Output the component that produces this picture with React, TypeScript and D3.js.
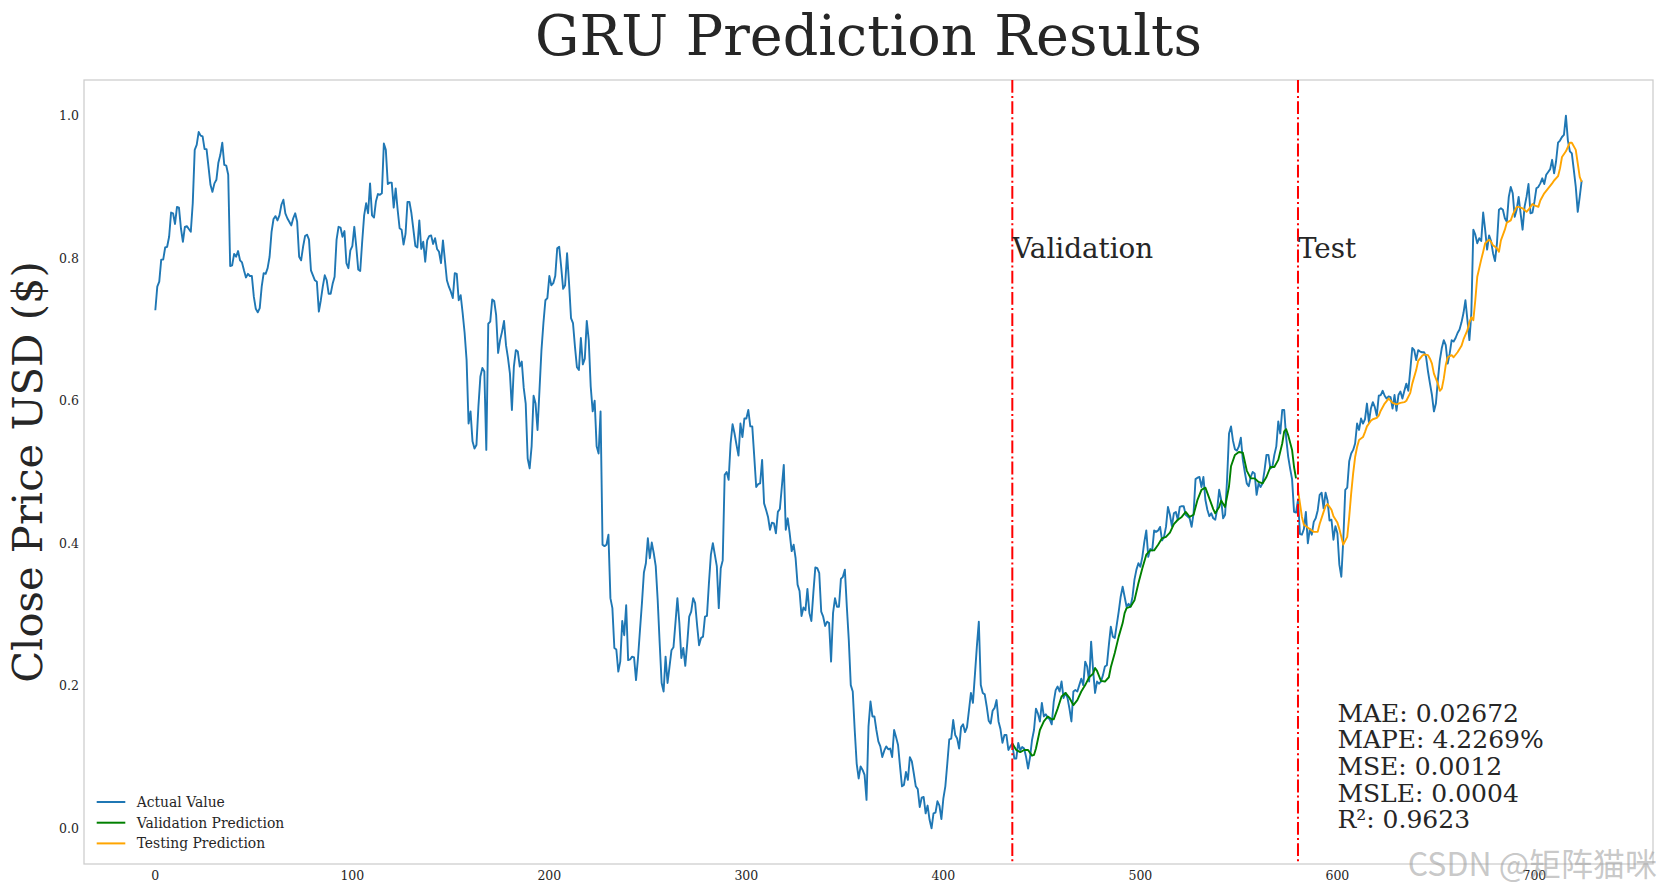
import React from 'react'
import * as d3 from 'd3'

// [index, scaled close price]
const actualValue: [number, number][] = [
  [0, .727], [1, .76], [2, .767], [3, .798], [4, .798], [5, .815], [6, .816], [7, .83], [8, .864], [9, .863],
  [10, .848], [11, .872], [12, .871], [13, .842], [14, .823], [15, .844], [16, .845], [17, .841], [18, .837], [19, .877],
  [20, .952], [21, .959], [22, .977], [23, .972], [24, .971], [25, .953], [26, .953], [27, .928], [28, .903], [29, .893],
  [30, .905], [31, .91], [32, .934], [33, .945], [34, .962], [35, .931], [36, .93], [37, .917], [38, .789], [39, .79],
  [40, .806], [41, .802], [42, .81], [43, .797], [44, .794], [45, .783], [46, .773], [47, .778], [48, .775], [49, .775],
  [50, .746], [51, .729], [52, .724], [53, .73], [54, .76], [55, .779], [56, .778], [57, .786], [58, .802], [59, .837],
  [60, .855], [61, .859], [62, .853], [63, .86], [64, .875], [65, .882], [66, .863], [67, .856], [68, .851], [69, .846],
  [70, .856], [71, .863], [72, .851], [73, .802], [74, .797], [75, .816], [76, .831], [77, .833], [78, .826], [79, .783],
  [80, .776], [81, .769], [82, .767], [83, .725], [84, .741], [85, .76], [86, .776], [87, .769], [88, .75], [89, .75],
  [90, .764], [91, .774], [92, .826], [93, .844], [94, .843], [95, .83], [96, .838], [97, .793], [98, .786], [99, .811],
  [100, .817], [101, .844], [102, .816], [103, .784], [104, .782], [105, .823], [106, .86], [107, .877], [108, .863], [109, .905],
  [110, .86], [111, .857], [112, .88], [113, .89], [114, .889], [115, .891], [116, .961], [117, .952], [118, .904], [119, .906],
  [120, .906], [121, .871], [122, .898], [123, .868], [124, .842], [125, .84], [126, .819], [127, .834], [128, .879], [129, .879],
  [130, .863], [131, .84], [132, .817], [133, .815], [134, .853], [135, .813], [136, .823], [137, .795], [138, .825], [139, .831],
  [140, .832], [141, .82], [142, .828], [143, .813], [144, .809], [145, .793], [146, .825], [147, .797], [148, .769], [149, .76],
  [150, .753], [151, .744], [152, .779], [153, .778], [154, .741], [155, .748], [156, .723], [157, .695], [158, .657], [159, .568],
  [160, .585], [161, .543], [162, .533], [163, .538], [164, .592], [165, .634], [166, .646], [167, .641], [168, .531], [169, .708],
  [170, .711], [171, .742], [172, .74], [173, .72], [174, .667], [175, .685], [176, .697], [177, .712], [178, .678], [179, .66],
  [180, .638], [181, .587], [182, .648], [183, .671], [184, .669], [185, .648], [186, .655], [187, .618], [188, .596], [189, .519],
  [190, .505], [191, .536], [192, .607], [193, .596], [194, .559], [195, .615], [196, .671], [197, .709], [198, .741], [199, .744],
  [200, .775], [201, .762], [202, .765], [203, .775], [204, .814], [205, .816], [206, .788], [207, .757], [208, .762], [209, .807],
  [210, .765], [211, .716], [212, .709], [213, .676], [214, .647], [215, .643], [216, .688], [217, .651], [218, .659], [219, .712],
  [220, .685], [221, .62], [222, .585], [223, .6], [224, .536], [225, .526], [226, .585], [227, .398], [228, .396], [229, .398],
  [230, .412], [231, .323], [232, .309], [233, .253], [234, .251], [235, .22], [236, .234], [237, .291], [238, .271], [239, .313],
  [240, .236], [241, .237], [242, .241], [243, .24], [244, .208], [245, .239], [246, .278], [247, .316], [248, .359], [249, .372],
  [250, .407], [251, .379], [252, .401], [253, .386], [254, .368], [255, .32], [256, .26], [257, .204], [258, .192], [259, .241],
  [260, .204], [261, .227], [262, .25], [263, .254], [264, .288], [265, .323], [266, .288], [267, .239], [268, .253], [269, .228],
  [270, .26], [271, .297], [272, .304], [273, .323], [274, .316], [275, .285], [276, .257], [277, .267], [278, .269], [279, .297],
  [280, .298], [281, .344], [282, .384], [283, .4], [284, .384], [285, .368], [286, .309], [287, .365], [288, .376], [289, .496],
  [290, .5], [291, .489], [292, .54], [293, .567], [294, .554], [295, .538], [296, .523], [297, .568], [298, .549], [299, .575],
  [300, .575], [301, .587], [302, .564], [303, .564], [304, .522], [305, .479], [306, .483], [307, .484], [308, .517], [309, .456],
  [310, .447], [311, .437], [312, .419], [313, .429], [314, .428], [315, .414], [316, .444], [317, .448], [318, .479], [319, .51],
  [320, .419], [321, .435], [322, .414], [323, .389], [324, .398], [325, .379], [326, .342], [327, .333], [328, .298], [329, .31],
  [330, .306], [331, .336], [332, .302], [333, .291], [334, .33], [335, .366], [336, .365], [337, .358], [338, .304], [339, .297],
  [340, .284], [341, .29], [342, .288], [343, .234], [344, .302], [345, .323], [346, .311], [347, .311], [348, .35], [349, .353],
  [350, .363], [351, .311], [352, .264], [353, .201], [354, .192], [355, .138], [356, .091], [357, .07], [358, .087], [359, .082],
  [360, .075], [361, .04], [362, .143], [363, .178], [364, .157], [365, .157], [366, .138], [367, .122], [368, .115], [369, .1],
  [370, .109], [371, .115], [372, .111], [373, .112], [374, .1], [375, .138], [376, .128], [377, .117], [378, .087], [379, .059],
  [380, .061], [381, .079], [382, .068], [383, .1], [384, .094], [385, .077], [386, .059], [387, .055], [388, .03], [389, .043],
  [390, .044], [391, .021], [392, .032], [393, .012], [394, .0], [395, .021], [396, .022], [397, .038], [398, .032], [399, .013],
  [400, .042], [401, .059], [402, .091], [403, .125], [404, .126], [405, .152], [406, .131], [407, .126], [408, .112], [409, .142],
  [410, .146], [411, .135], [412, .142], [413, .166], [414, .19], [415, .176], [416, .215], [417, .255], [418, .29], [419, .201],
  [420, .19], [421, .188], [422, .171], [423, .151], [424, .147], [425, .165], [426, .169], [427, .18], [428, .15], [429, .139],
  [430, .12], [431, .131], [432, .131], [433, .11], [434, .115], [435, .119], [436, .098], [437, .098], [438, .12], [439, .11],
  [440, .114], [441, .112], [442, .1], [443, .084], [444, .1], [445, .124], [446, .138], [447, .168], [448, .161], [449, .15],
  [450, .176], [451, .157], [452, .16], [453, .155], [454, .153], [455, .146], [456, .177], [457, .194], [458, .199], [459, .192],
  [460, .206], [461, .183], [462, .19], [463, .183], [464, .168], [465, .15], [466, .192], [467, .194], [468, .192], [469, .201],
  [470, .21], [471, .201], [472, .234], [473, .227], [474, .206], [475, .262], [476, .222], [477, .19], [478, .206], [479, .203],
  [480, .206], [481, .215], [482, .227], [483, .229], [484, .257], [485, .283], [486, .269], [487, .267], [489, .304], [490, .325],
  [491, .339], [492, .325], [493, .311], [494, .315], [495, .311], [496, .325], [497, .349], [498, .363], [499, .372], [500, .367],
  [501, .381], [502, .402], [503, .418], [504, .381], [505, .392], [506, .39], [507, .418], [508, .416], [509, .418], [510, .423],
  [511, .404], [512, .409], [513, .423], [514, .451], [515, .44], [516, .424], [517, .442], [518, .444], [519, .433], [520, .451],
  [521, .452], [522, .452], [523, .44], [525, .435], [526, .423], [527, .442], [528, .49], [529, .492], [530, .493], [531, .479],
  [532, .493], [533, .461], [534, .447], [535, .438], [536, .442], [537, .435], [538, .433], [539, .448], [540, .475], [541, .461],
  [542, .435], [543, .44], [544, .489], [545, .554], [546, .564], [547, .544], [548, .532], [549, .53], [550, .536], [551, .548],
  [552, .517], [553, .5], [554, .484], [555, .48], [556, .493], [557, .5], [558, .498], [559, .468], [560, .484], [561, .479],
  [562, .484], [563, .502], [564, .524], [565, .524], [566, .505], [567, .507], [568, .524], [569, .536], [570, .571], [571, .554],
  [572, .587], [573, .587], [574, .548], [575, .522], [576, .505], [577, .49], [578, .444], [579, .443], [580, .461], [581, .413],
  [582, .412], [583, .42], [584, .444], [585, .4], [586, .42], [587, .412], [588, .43], [589, .435], [590, .446], [591, .468],
  [592, .471], [593, .449], [594, .471], [595, .46], [596, .432], [597, .433], [598, .405], [599, .424], [600, .414], [601, .37],
  [602, .353], [603, .405], [604, .475], [605, .478], [606, .515], [607, .526], [608, .531], [609, .54], [610, .568], [611, .559],
  [612, .575], [613, .568], [614, .574], [615, .596], [616, .57], [617, .589], [618, .598], [619, .591], [620, .579], [621, .607],
  [622, .608], [623, .614], [624, .607], [625, .603], [626, .606], [627, .605], [628, .589], [629, .608], [630, .586], [631, .608],
  [632, .613], [633, .603], [634, .614], [635, .624], [636, .614], [637, .643], [638, .674], [639, .671], [640, .657], [641, .671],
  [642, .669], [643, .668], [644, .668], [645, .662], [646, .641], [647, .624], [648, .608], [649, .585], [650, .596], [651, .629],
  [652, .657], [653, .674], [654, .685], [655, .678], [656, .652], [657, .666], [658, .685], [659, .683], [660, .688], [661, .695],
  [662, .7], [663, .71], [664, .723], [665, .741], [666, .713], [667, .685], [668, .723], [669, .84], [670, .833], [671, .821],
  [672, .828], [673, .824], [674, .864], [675, .84], [676, .812], [677, .832], [678, .824], [679, .807], [680, .796], [681, .821],
  [682, .868], [683, .87], [684, .868], [685, .856], [686, .851], [687, .886], [688, .9], [689, .891], [690, .858], [691, .868],
  [692, .886], [693, .863], [694, .84], [695, .872], [696, .886], [697, .904], [698, .863], [699, .864], [700, .879], [701, .898],
  [702, .9], [703, .905], [704, .912], [705, .904], [706, .917], [707, .921], [708, .925], [709, .938], [710, .919], [711, .936],
  [712, .962], [713, .965], [714, .97], [715, .973], [716, 1.0], [717, .965], [718, .95], [719, .947], [720, .924], [721, .9],
  [722, .865], [723, .886], [724, .909],
]

const validationPrediction: [number, number][] = [
  [435, .119], [437, .11], [439, .107], [441, .11], [443, .11], [445, .102], [446, .103], [447, .112], [449, .138], [451, .15],
  [453, .157], [455, .153], [456, .153], [458, .168], [460, .185], [462, .19], [464, .183], [466, .173], [468, .18], [470, .192],
  [472, .201], [474, .212], [476, .217], [477, .225], [478, .221], [480, .207], [482, .206], [484, .212], [485, .226], [487, .246],
  [489, .269], [491, .288], [492, .302], [493, .309], [495, .311], [497, .32], [499, .344], [501, .365], [503, .384], [505, .39],
  [507, .39], [509, .398], [511, .407], [513, .409], [515, .415], [517, .427], [519, .433], [521, .437], [523, .444], [525, .437],
  [527, .44], [529, .461], [531, .475], [533, .478], [535, .463], [537, .448], [538, .442], [540, .451], [541, .46], [543, .451],
  [545, .48], [546, .508], [548, .524], [550, .528], [552, .527], [554, .502], [556, .491], [558, .491], [560, .486], [562, .484],
  [564, .493], [566, .507], [568, .507], [570, .517], [572, .54], [573, .557], [574, .56], [575, .552], [577, .531], [578, .507],
  [579, .491],
]

const testingPrediction: [number, number][] = [
  [580, .475], [581, .456], [582, .437], [583, .426], [584, .424], [586, .42], [588, .416], [590, .416], [591, .427], [593, .444],
  [594, .452], [595, .455], [597, .447], [598, .438], [600, .429], [601, .42], [602, .409], [603, .398], [605, .409], [606, .437],
  [607, .47], [608, .498], [609, .521], [610, .535], [611, .545], [613, .549], [614, .556], [615, .564], [617, .572], [618, .574],
  [620, .576], [621, .579], [622, .586], [624, .596], [626, .603], [627, .6], [628, .597], [630, .595], [632, .597], [634, .598],
  [635, .6], [637, .611], [638, .624], [640, .643], [641, .656], [643, .663], [644, .665], [646, .664], [647, .659], [648, .652],
  [649, .638], [651, .624], [652, .614], [653, .617], [654, .631], [655, .65], [656, .661], [658, .664], [659, .661], [661, .668],
  [663, .677], [664, .686], [666, .699], [667, .71], [668, .717], [669, .713], [670, .741], [671, .774], [673, .798], [674, .809],
  [675, .821], [677, .826], [678, .823], [679, .818], [681, .814], [682, .809], [683, .825], [685, .84], [686, .85], [688, .853],
  [689, .861], [691, .872], [692, .872], [694, .87], [696, .865], [697, .868], [699, .876], [700, .874], [702, .872], [703, .881],
  [705, .891], [707, .898], [709, .905], [710, .909], [712, .915], [713, .926], [714, .942], [716, .95], [717, .956], [718, .962],
  [719, .962], [721, .952], [722, .933], [723, .914], [724, .907],
]

const splits = [
  { x: 435, label: 'Validation' },
  { x: 580, label: 'Test' },
]
const xTicks = [0, 100, 200, 300, 400, 500, 600, 700]
const yTicks = [0, 0.2, 0.4, 0.6, 0.8, 1.0]
const metrics = ['MAE: 0.02672', 'MAPE: 4.2269%', 'MSE: 0.0012', 'MSLE: 0.0004', 'R²: 0.9623']
const legendItems = [
  { label: 'Actual Value', color: '#1f77b4' },
  { label: 'Validation Prediction', color: 'green' },
  { label: 'Testing Prediction', color: 'orange' },
]

const W = 1662
const H = 893
const margin = { left: 84, right: 9, top: 80, bottom: 29 }
const serif = '"DejaVu Serif", serif'

const App = () => {
  const x = d3.scaleLinear().domain([-36.2, 760.2]).range([margin.left, W - margin.right])
  const y = d3.scaleLinear().domain([-0.05, 1.05]).range([H - margin.bottom, margin.top])
  const line = d3
    .line<[number, number]>()
    .x((d) => x(d[0]))
    .y((d) => y(d[1]))

  const top = margin.top
  const bottom = H - margin.bottom

  return (
    <svg
      width={W}
      height={H}
      style={{ position: 'absolute', left: 0, top: 0, background: '#fff' }}
      fontFamily={serif}
    >
      <rect x={0} y={0} width={W} height={H} fill="#fff" />

      {/* title */}
      <text x={(margin.left + W - margin.right) / 2} y={55} textAnchor="middle" fontSize={55.6} fill="#262626">
        GRU Prediction Results
      </text>

      {/* y label */}
      <text
        transform={`translate(42, ${(top + bottom) / 2}) rotate(-90)`}
        textAnchor="middle"
        fontSize={41.7}
        fill="#262626"
      >
        Close Price USD ($)
      </text>

      {/* frame */}
      <rect
        x={margin.left}
        y={top}
        width={W - margin.right - margin.left}
        height={bottom - top}
        fill="none"
        stroke="#cccccc"
        strokeWidth={1.25}
      />

      {/* tick labels */}
      {yTicks.map((t) => (
        <text key={'y' + t} x={margin.left - 5} y={y(t) + 4.5} textAnchor="end" fontSize={12.5} fill="#262626">
          {t.toFixed(1)}
        </text>
      ))}
      {xTicks.map((t) => (
        <text key={'x' + t} x={x(t)} y={bottom + 15.5} textAnchor="middle" fontSize={12.5} fill="#262626">
          {t}
        </text>
      ))}

      {/* series */}
      <path d={line(actualValue) || ''} fill="none" stroke="#1f77b4" strokeWidth={1.9} strokeLinejoin="round" />
      <path d={line(validationPrediction) || ''} fill="none" stroke="green" strokeWidth={1.9} strokeLinejoin="round" />
      <path d={line(testingPrediction) || ''} fill="none" stroke="orange" strokeWidth={1.9} strokeLinejoin="round" />

      {/* split markers */}
      {splits.map((s) => (
        <g key={s.label}>
          <line
            x1={x(s.x)}
            x2={x(s.x)}
            y1={top}
            y2={bottom}
            stroke="red"
            strokeWidth={2}
            strokeDasharray="12.8,3.2,2,3.2"
          />
          <text x={x(s.x)} y={y(0.8)} fontSize={27.8} fill="#262626">
            {s.label}
          </text>
        </g>
      ))}

      {/* metrics */}
      {metrics.map((m, i) => (
        <text key={m} x={x(600)} y={y(0) - (metrics.length - 1 - i) * 26.65} fontSize={25} fill="#262626">
          {m}
        </text>
      ))}

      {/* legend */}
      {legendItems.map((d, i) => (
        <g key={d.label} transform={`translate(0, ${802 + i * 20.7})`}>
          <line x1={96.7} x2={125.3} y1={0} y2={0} stroke={d.color} strokeWidth={2} />
          <text x={136.7} y={4.8} fontSize={13.9} fill="#262626">
            {d.label}
          </text>
        </g>
      ))}

      {/* watermark */}
      <text
        x={1657}
        y={876}
        textAnchor="end"
        fontSize={32}
        fontFamily='"Noto Sans CJK SC", "Noto Sans", sans-serif'
        fill="#9a9a9a"
        fillOpacity={0.55}
      >
        CSDN @矩阵猫咪
      </text>
    </svg>
  )
}

export default App
